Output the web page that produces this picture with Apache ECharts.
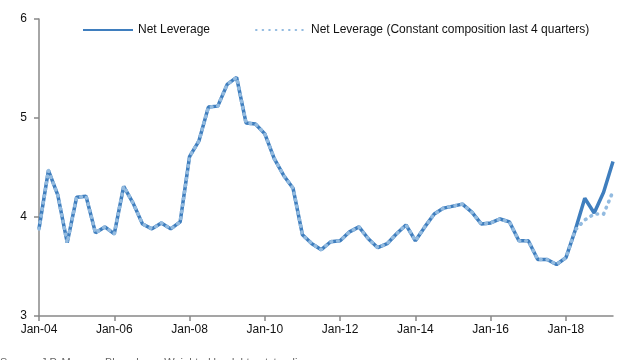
<!DOCTYPE html>
<html>
<head>
<meta charset="utf-8">
<script src="https://cdn.jsdelivr.net/npm/echarts@6/dist/echarts.min.js"></script>
<style>html,body{margin:0;padding:0;background:#fff;}#c{width:640px;height:360px;}</style>
</head>
<body>
<div id="c"></div>
<script>
// Quarterly observations, 2004 Q1 .. 2019 Q2
var startYear = 2004;
var netLeverage = [3.88,4.47,4.22,3.74,4.20,4.21,3.84,3.90,3.83,4.31,
  4.14,3.93,3.88,3.94,3.88,3.95,4.61,4.77,5.11,5.12,
  5.34,5.41,4.95,4.94,4.84,4.59,4.42,4.29,3.82,3.73,
  3.67,3.75,3.76,3.85,3.90,3.78,3.69,3.73,3.83,3.92,
  3.76,3.90,4.03,4.09,4.11,4.13,4.05,3.93,3.94,3.98,
  3.95,3.76,3.76,3.57,3.57,3.52,3.59,3.87,4.19,4.04,
  4.25,4.56];
// constant composition series equals net leverage except last 4 quarters
var constLast4 = [3.97,4.03,4.03,4.26];
var constComp = netLeverage.slice(0, netLeverage.length - 4).concat(constLast4);
var yTicks = [3,4,5,6];
var months = ['Jan','Apr','Jul','Oct'];
var categories = [];
for (var i = 0; i < netLeverage.length; i++) {
  var yr = startYear + Math.floor(i / 4);
  categories.push(months[i % 4] + '-' + String(yr).slice(2));
}
var font = 'Liberation Sans, Arial, sans-serif';
var chart = echarts.init(document.getElementById('c'), null, {renderer: 'canvas'});
chart.setOption({
  animation: false,
  backgroundColor: '#fff',
  textStyle: {fontFamily: font},
  grid: {left: 39, right: 27, top: 19, bottom: 44, containLabel: false},
  legend: [{
    left: 77, top: 19, itemWidth: 50, itemHeight: 8, itemGap: 5,
    data: ['Net Leverage'],
    itemStyle: {opacity: 0},
    textStyle: {fontFamily: font, fontSize: 12, color: '#111'}
  }, {
    left: 250, top: 19, itemWidth: 50, itemHeight: 8,
    data: ['Net Leverage (Constant composition last 4 quarters)'],
    itemStyle: {opacity: 0},
    textStyle: {fontFamily: font, fontSize: 12, color: '#111'}
  }],
  graphic: [{
    type: 'text', left: 0, top: 357,
    style: {text: 'Source: J.P. Morgan, Bloomberg. Weighted by debt outstanding.', fill: '#666', font: '11px ' + font}
  }],
  xAxis: {
    type: 'category', boundaryGap: false, data: categories,
    axisLine: {lineStyle: {color: '#888', width: 1.5}},
    axisTick: {interval: 7, length: 5, lineStyle: {color: '#888', width: 1.5}},
    axisLabel: {interval: 7, color: '#111', fontSize: 12, margin: 8, fontFamily: font},
    splitLine: {show: false}
  },
  yAxis: {
    type: 'value', min: yTicks[0], max: yTicks[yTicks.length - 1], interval: 1,
    axisLine: {show: true, lineStyle: {color: '#888', width: 1.5}},
    axisTick: {show: true, length: 5, lineStyle: {color: '#888', width: 1.5}},
    axisLabel: {color: '#111', fontSize: 12, margin: 12, fontFamily: font},
    splitLine: {show: false}
  },
  series: [{
    name: 'Net Leverage', type: 'line', data: netLeverage,
    symbol: 'none', smooth: false,
    lineStyle: {color: '#3F7EBE', width: 3.5},
    itemStyle: {color: '#3F7EBE'}
  }, {
    name: 'Net Leverage (Constant composition last 4 quarters)', type: 'line', data: constComp,
    symbol: 'none', smooth: false,
    lineStyle: {color: '#93BBE0', width: 3.6, type: [0.6, 6], cap: 'round'},
    itemStyle: {color: '#93BBE0'}
  }]
});
</script>
</body>
</html>
